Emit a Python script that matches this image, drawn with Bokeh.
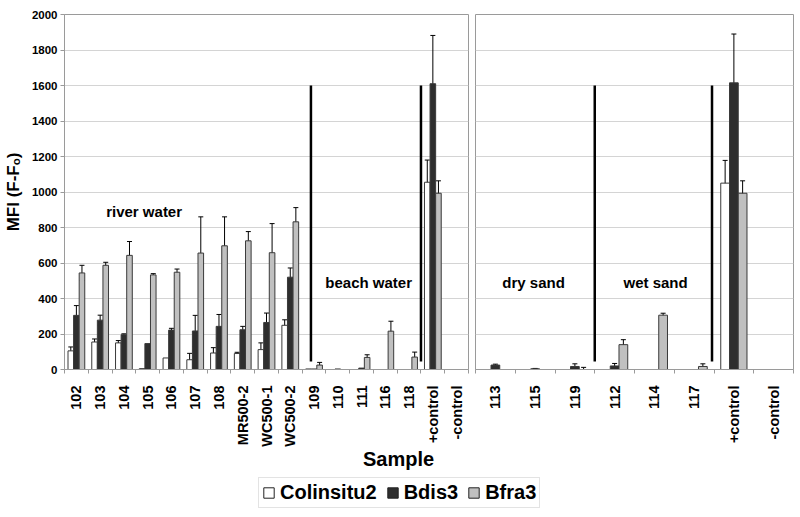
import math
from bokeh.plotting import figure
from bokeh.models import (ColumnDataSource, Range1d, FixedTicker, Whisker, TeeHead,
                          Legend, LegendItem, Label)
from bokeh.layouts import column, row
from bokeh.core.properties import value
from bokeh.embed import file_html
from bokeh.resources import INLINE

# ---------------- data ----------------
series = ["Colinsitu2", "Bdis3", "Bfra3"]

left_samples = ["102", "103", "104", "105", "106", "107", "108", "MR500-2", "WC500-1",
                "WC500-2", "109", "110", "111", "116", "118", "+control", "-control"]
colinsitu2_left = [105, 155, 150, 5, 65, 55, 93, 90, 112, 249, 3, 0, 0, 0, 0, 1055, 0]
colinsitu2_left_err = [22, 17, 13, 0, 0, 36, 30, 7, 38, 31, 0, 0, 0, 0, 0, 125, 0]
bdis3_left = [305, 278, 196, 146, 222, 217, 243, 224, 265, 520, 3, 3, 8, 0, 0, 1610, 0]
bdis3_left_err = [55, 28, 5, 0, 10, 88, 67, 19, 53, 52, 0, 0, 0, 0, 0, 272, 0]
bfra3_left = [544, 587, 643, 533, 548, 656, 697, 725, 658, 832, 25, 0, 68, 216, 70, 993, 0]
bfra3_left_err = [43, 17, 78, 7, 18, 204, 163, 52, 164, 80, 15, 0, 15, 56, 28, 70, 0]

right_samples = ["113", "115", "119", "112", "114", "117", "+control", "-control"]
colinsitu2_right = [0, 0, 0, 0, 0, 0, 1050, 0]
colinsitu2_right_err = [0, 0, 0, 0, 0, 0, 128, 0]
bdis3_right = [25, 4, 17, 20, 0, 0, 1615, 0]
bdis3_right_err = [5, 2, 15, 14, 0, 0, 275, 0]
bfra3_right = [0, 0, 0, 140, 306, 17, 993, 0]
bfra3_right_err = [0, 0, 12, 28, 11, 15, 70, 0]

left_regions = ["river water", "beach water"]
left_region_pos = [3.35, 12.8]
right_regions = ["dry sand", "wet sand"]
right_region_pos = [1.46, 4.53]
region_y = [890, 490, 490, 490]

left_dividers = [10.37, 15.0]
right_dividers = [3.0, 5.95]
divider_bottom = 45
divider_top = 1600

y_ticks = list(range(0, 2001, 200))

# ---------------- style ----------------
FONT = "Liberation Sans"
fills = ["#ffffff", "#2e2e2e", "#c0c0c0"]
edge = "#3a3a3a"
frame_col = "#9a9a9a"
grid_col = "#d4d4d4"

TOP = 14
BOTTOM = 80
FRAME_H = 355


def make_panel(samples, vals, errs, bar_w, width, mb_left, mb_right, show_y,
               regions, region_x, region_y_vals, dividers):
    n = len(samples)
    p = figure(width=width, height=TOP + FRAME_H + BOTTOM, output_backend="svg",
               toolbar_location=None,
               x_range=Range1d(0, n), y_range=Range1d(0, 2000),
               min_border_left=mb_left, min_border_right=mb_right,
               min_border_top=TOP, min_border_bottom=BOTTOM)
    centers = [i + 0.5 for i in range(n)]
    offsets = [-bar_w, 0.0, bar_w]
    for k in range(3):
        xs = [c + offsets[k] for c in centers]
        src = ColumnDataSource(dict(x=xs, top=vals[k]))
        p.vbar(x="x", top="top", width=bar_w, source=src, fill_color=fills[k],
               line_color=edge, line_width=1)
        wx, up, lo = [], [], []
        for x, v, e in zip(xs, vals[k], errs[k]):
            if e > 0:
                wx.append(x)
                up.append(v + e)
                lo.append(max(v - e, 0))
        wsrc = ColumnDataSource(dict(x=wx, upper=up, lower=lo))
        w = Whisker(source=wsrc, base="x", upper="upper", lower="lower",
                    line_color="black", line_width=1,
                    upper_head=TeeHead(size=5, line_color="black", line_width=1),
                    lower_head=TeeHead(size=5, line_color="black", line_width=1))
        p.add_layout(w)

    p.segment(x0=dividers, x1=dividers, y0=[divider_bottom] * len(dividers),
              y1=[divider_top] * len(dividers), line_color="black", line_width=2.5)

    p.text(x=region_x, y=region_y_vals, text=regions, text_font=value(FONT),
           text_font_style="bold", text_font_size="15px", text_align="center",
           text_baseline="middle", text_color="black")

    # x axis
    xa = p.xaxis[0]
    xa.ticker = FixedTicker(ticks=centers, minor_ticks=list(range(n + 1)))
    xa.major_label_overrides = {c: s for c, s in zip(centers, samples)}
    xa.major_label_orientation = math.pi / 2
    xa.major_label_text_font = FONT
    xa.major_label_text_font_style = "bold"
    xa.major_label_text_font_size = "14.5px"
    xa.major_label_text_color = "black"
    xa.major_label_standoff = 12
    xa.major_tick_out = 0
    xa.major_tick_in = 0
    xa.minor_tick_out = 4
    xa.minor_tick_in = 0
    xa.minor_tick_line_color = frame_col
    xa.axis_line_color = frame_col

    # y axis
    ya = p.yaxis[0]
    if show_y:
        ya.ticker = FixedTicker(ticks=y_ticks)
        ya.major_label_text_font = FONT
        ya.major_label_text_font_style = "bold"
        ya.major_label_text_font_size = "11.5px"
        ya.major_label_text_color = "black"
        ya.major_label_standoff = 3
        ya.major_tick_out = 4
        ya.major_tick_in = 0
        ya.minor_tick_line_color = None
        ya.major_tick_line_color = frame_col
        ya.axis_line_color = frame_col
        ya.axis_label = "MFI (F-Fₒ)"
        ya.axis_label_text_font = FONT
        ya.axis_label_text_font_style = "bold"
        ya.axis_label_text_font_size = "17px"
        ya.axis_label_text_color = "black"
        ya.axis_label_standoff = 6
    else:
        ya.visible = False

    p.ygrid.ticker = FixedTicker(ticks=y_ticks)
    p.ygrid.grid_line_color = grid_col
    p.xgrid.grid_line_color = None
    p.outline_line_color = frame_col
    p.outline_line_width = 1
    p.background_fill_color = "white"
    p.border_fill_color = "white"
    return p


left = make_panel(left_samples,
                  [colinsitu2_left, bdis3_left, bfra3_left],
                  [colinsitu2_left_err, bdis3_left_err, bfra3_left_err],
                  0.235, 471, 56, 3, True,
                  left_regions, left_region_pos, region_y[:2], left_dividers)
right = make_panel(right_samples,
                   [colinsitu2_right, bdis3_right, bfra3_right],
                   [colinsitu2_right_err, bdis3_right_err, bfra3_right_err],
                   0.22, 323, 4, 1, False,
                   right_regions, right_region_pos, region_y[2:], right_dividers)

# bottom: axis title + legend
BH = 61
bottom = figure(width=794, height=BH, output_backend="svg", toolbar_location=None,
                x_range=Range1d(0, 1), y_range=Range1d(0, 1),
                min_border=0)
bottom.xaxis.visible = False
bottom.yaxis.visible = False
bottom.grid.visible = False
bottom.outline_line_color = None

items = []
for k in range(3):
    # legend swatches: a zero-height bar placed outside the visible range
    r = bottom.vbar(x=[5], top=[0], width=0.1, fill_color=fills[k],
                    line_color="#222222", line_width=1)
    items.append(LegendItem(label=series[k], renderers=[r]))

legend = Legend(items=items, orientation="horizontal", location=(258, 2),
                label_text_font=FONT, label_text_font_style="bold",
                label_text_font_size="20px", label_text_color="black",
                glyph_width=13, glyph_height=13, label_standoff=5, spacing=9,
                padding=3, margin=0, label_height=20,
                border_line_color="#c8c8c8", border_line_width=1,
                background_fill_color="white")
bottom.add_layout(legend, "center")

bottom.add_layout(Label(x=398, y=BH - 9, x_units="screen", y_units="screen", text="Sample",
                        text_font=FONT, text_font_style="bold", text_font_size="20px",
                        text_align="center", text_baseline="middle", text_color="black"))

layout = column(row(left, right), bottom)
open("out.html", "w").write(file_html(layout, INLINE))
